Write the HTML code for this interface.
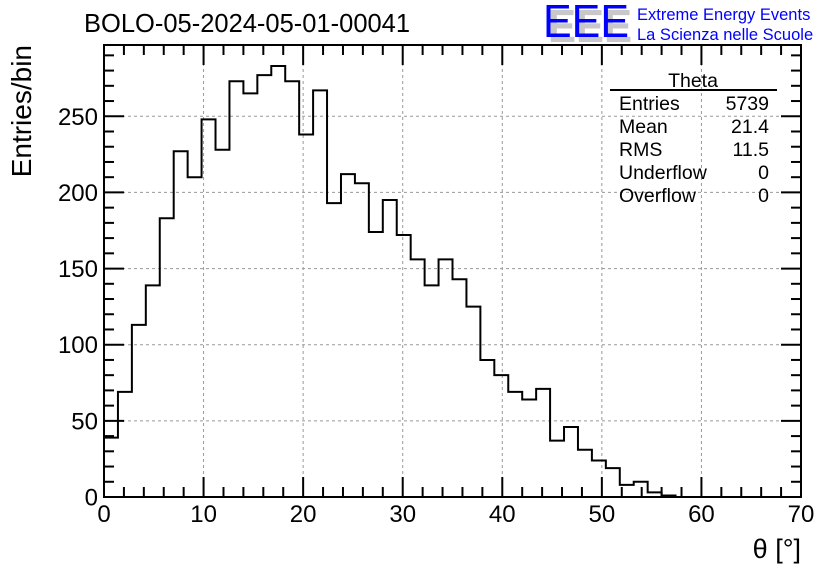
<!DOCTYPE html>
<html><head><meta charset="utf-8"><style>
body{margin:0;background:#fff;}
svg{display:block;font-family:"Liberation Sans",sans-serif;}
</style></head><body>
<svg id="chart" width="836" height="572" viewBox="0 0 836 572">
<rect width="836" height="572" fill="#fff"/>
<text x="84" y="32" font-size="25.5">BOLO-05-2024-05-01-00041</text>
<g>
<text x="548" y="42" font-size="46" fill="#c8c8c8" font-weight="bold" textLength="84" lengthAdjust="spacingAndGlyphs">EEE</text>
<text x="543" y="37" font-size="46" fill="#0000ff" textLength="86" lengthAdjust="spacingAndGlyphs">EEE</text>
<text x="637" y="20" font-size="16.5" fill="#0000ff">Extreme Energy Events</text>
<text x="637" y="40" font-size="16.5" fill="#0000ff">La Scienza nelle Scuole</text>
</g>
<g id="grid"></g>
<g id="axes"></g>
<path id="hist" fill="none" stroke="#000" stroke-width="2"/>
<rect x="104" y="45" width="697" height="452" fill="none" stroke="#000" stroke-width="2"/>
<text x="31" y="45" font-size="28" transform="rotate(-90 31 45)" text-anchor="end">Entries/bin</text>
<text x="801" y="558" font-size="27" text-anchor="end">θ [°]</text>
<g font-size="19.5">
<text x="693" y="87" text-anchor="middle">Theta</text>
<line x1="610" y1="90" x2="777" y2="90" stroke="#000" stroke-width="2"/>
<text x="619" y="110">Entries</text><text x="769" y="110" text-anchor="end">5739</text>
<text x="619" y="133">Mean</text><text x="769" y="133" text-anchor="end">21.4</text>
<text x="619" y="156">RMS</text><text x="769" y="156" text-anchor="end">11.5</text>
<text x="619" y="179">Underflow</text><text x="769" y="179" text-anchor="end">0</text>
<text x="619" y="202">Overflow</text><text x="769" y="202" text-anchor="end">0</text>
</g>
</svg>
<script>
const binWidth = 1.4;
const counts = [39,69,113,139,183,227,210,248,228,273,265,277,283,273,238,267,193,212,206,174,195,172,156,139,156,143,125,90,80,69,64,71,37,46,31,24,19,8,10,3,1,0,0,0,0,0,0,0,0,0];
const xTicks = [0,10,20,30,40,50,60,70];
const yTicks = [0,50,100,150,200,250];
const xMin=0,xMax=70,yMin=0,yMax=296.8;
const L=104,R=801,T=45,B=497;
const sx=v=>L+(v-xMin)/(xMax-xMin)*(R-L);
const sy=v=>B-(v-yMin)/(yMax-yMin)*(B-T);
const NS='http://www.w3.org/2000/svg';
const grid=document.getElementById('grid'),axes=document.getElementById('axes');
function mk(tag,attrs,parent){const e=document.createElementNS(NS,tag);for(const k in attrs)e.setAttribute(k,attrs[k]);parent.appendChild(e);return e;}
xTicks.forEach(v=>{
  if(v>xMin&&v<xMax){const g=mk('line',{x1:sx(v),x2:sx(v),y1:T,y2:B,stroke:'#999','stroke-dasharray':'3,3'},grid);
  
  }
  const t=mk('text',{x:sx(v),y:522,'font-size':24,'text-anchor':'middle'},axes);t.textContent=v;
  
  
});
for(let v=xMin;v<=xMax;v+=2){const len=(v%10===0)?20:10;
  mk('line',{x1:sx(v),x2:sx(v),y1:B,y2:B-len,stroke:'#000','stroke-width':2},axes);
  mk('line',{x1:sx(v),x2:sx(v),y1:T,y2:T+len,stroke:'#000','stroke-width':2},axes);}
yTicks.forEach(v=>{
  if(v>0){const g=mk('line',{x1:L,x2:R,y1:sy(v),y2:sy(v),stroke:'#999','stroke-dasharray':'3,3'},grid);
  
  }
  const t=mk('text',{x:98,y:sy(v)+8.5,'font-size':24,'text-anchor':'end'},axes);t.textContent=v;
  
  
});
for(let v=0;v<=yMax;v+=10){const len=(v%50===0)?20:10;
  mk('line',{x1:L,x2:L+len,y1:sy(v),y2:sy(v),stroke:'#000','stroke-width':2},axes);
  mk('line',{x1:R,x2:R-len,y1:sy(v),y2:sy(v),stroke:'#000','stroke-width':2},axes);}
let d='M'+sx(0)+','+sy(0);
counts.forEach((c,i)=>{d+=' L'+sx(i*binWidth)+','+sy(c)+' L'+sx((i+1)*binWidth)+','+sy(c);});
d+=' L'+sx(counts.length*binWidth)+','+sy(0);
document.getElementById('hist').setAttribute('d',d);
</script>
</body></html>
